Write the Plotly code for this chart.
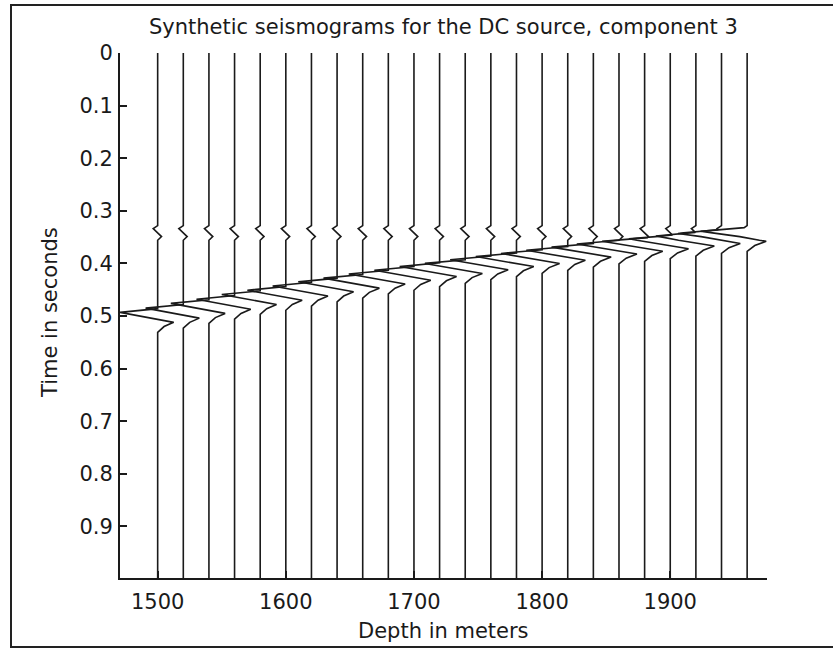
import numpy as np
import plotly.graph_objects as go

# ---------------- data ----------------
depth_m = [1500, 1520, 1540, 1560, 1580, 1600, 1620, 1640, 1660, 1680, 1700, 1720,
           1740, 1760, 1780, 1800, 1820, 1840, 1860, 1880, 1900, 1920, 1940, 1960]

# time of the large (leftward) spike of the main arrival, seconds
main_time_s = [0.493, 0.485, 0.476, 0.468, 0.459, 0.451, 0.443, 0.435, 0.428, 0.420,
               0.413, 0.406, 0.400, 0.393, 0.387, 0.381, 0.375, 0.369, 0.363, 0.358,
               0.353, 0.348, 0.343, 0.339]
# relative amplitude of the main arrival on each trace
main_gain = [1.00, 1.00, 1.01, 1.01, 1.02, 1.02, 1.03, 1.03, 1.04, 1.05, 1.05, 1.06,
             1.07, 1.08, 1.08, 1.09, 1.10, 1.11, 1.12, 1.13, 1.14, 1.15, 1.17, 1.19]
# time of the small early arrival, seconds
small_time_s = [0.338, 0.338, 0.338, 0.338, 0.338, 0.338, 0.338, 0.338, 0.338, 0.338,
                0.338, 0.338, 0.338, 0.338, 0.338, 0.338, 0.338, 0.338, 0.338, 0.338,
                0.338, 0.338, 0.338, 0.338]

# wavelet shapes (offset in s, deflection in m)
main_dt = [-0.007, 0.000, 0.019, 0.027, 0.038]
main_defl = [0.0, -29.4, 12.5, 5.0, 0.0]
small_dt = [-0.010, -0.004, 0.004, 0.011, 0.018]
small_defl = [0.0, -3.5, 0.0, 3.0, 0.0]

t_end = 0.998
y_ticks = [0, 0.1, 0.2, 0.3, 0.4, 0.5, 0.6, 0.7, 0.8, 0.9]
x_ticks = [1500, 1600, 1700, 1800, 1900]

title_text = "Synthetic seismograms for the DC source, component 3"
x_title = "Depth in meters"
y_title = "Time in seconds"

# ---------------- figure ----------------
FONT = "DejaVu Sans, Verdana, sans-serif"
FS = 21
INK = "#1a1a1a"
fig = go.Figure()

for d, tm, g, ts in zip(depth_m, main_time_s, main_gain, small_time_s):
    mt = [tm + o for o in main_dt]
    st = [ts + o for o in small_dt]
    tt = np.array(sorted(set([0.0, t_end] + mt + st)))
    defl = (np.interp(tt, mt, [g * v for v in main_defl], left=0, right=0)
            + np.interp(tt, st, small_defl, left=0, right=0))
    fig.add_trace(go.Scatter(x=d + defl, y=tt, mode="lines",
                             line=dict(color=INK, width=1.6),
                             showlegend=False, hoverinfo="skip"))

L, R, T, B = 120, 767, 53, 578
W, H = 833, 648

def px(xp):
    return (xp - L) / (R - L)

def py(yp):
    return (B - yp) / (B - T)

fig.update_layout(
    width=W, height=H,
    margin=dict(l=L, r=W - R, t=T, b=H - B),
    paper_bgcolor="white", plot_bgcolor="white",
    font=dict(family=FONT, size=FS, color=INK),
    xaxis=dict(range=[1470.6, 1975.5], tickvals=x_ticks, ticks="inside", ticklen=7,
               tickwidth=1.5, tickcolor=INK, showline=True, linecolor=INK,
               linewidth=2, showgrid=False, zeroline=False, mirror=False,
               ticklabelstandoff=4, tickfont=dict(size=FS)),
    yaxis=dict(range=[t_end, 0], tickvals=y_ticks, ticks="inside", ticklen=7,
               tickwidth=1.5, tickcolor=INK, showline=True, linecolor=INK,
               linewidth=2, showgrid=False, zeroline=False, mirror=False,
               ticklabelstandoff=1, tickfont=dict(size=FS)),
    annotations=[
        dict(text=title_text, xref="paper", yref="paper", x=0.5, y=py(27),
             xanchor="center", yanchor="middle", showarrow=False, font=dict(size=FS)),
        dict(text=x_title, xref="paper", yref="paper", x=0.5, y=py(631),
             xanchor="center", yanchor="middle", showarrow=False, font=dict(size=FS)),
        dict(text=y_title, xref="paper", yref="paper", x=px(50), y=py(313),
             xanchor="center", yanchor="middle", textangle=-90, showarrow=False,
             font=dict(size=FS)),
    ],
    shapes=[dict(type="rect", xref="paper", yref="paper",
                 x0=px(11), x1=px(838), y0=py(647), y1=py(5),
                 line=dict(color="#222222", width=2), layer="below")],
)

fig.write_html("out.html")
